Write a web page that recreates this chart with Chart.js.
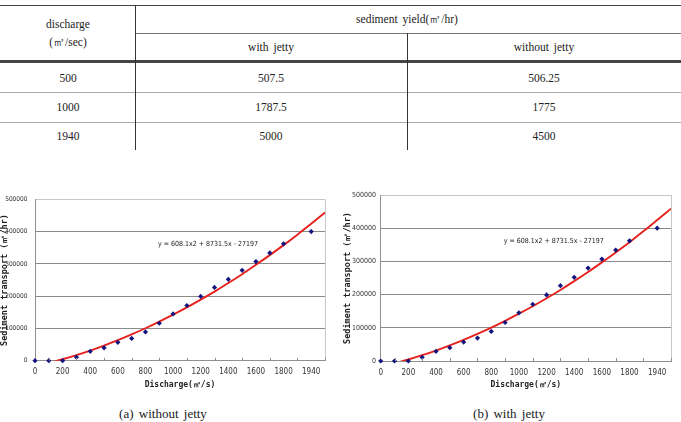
<!DOCTYPE html>
<html><head><meta charset="utf-8">
<script src="https://cdn.jsdelivr.net/npm/chart.js@4.4.0/dist/chart.umd.min.js"></script>
<style>
body{margin:0;width:681px;height:422px;background:#fff;position:relative;overflow:hidden;font-family:'Liberation Serif','Times New Roman',serif;color:#222}
.t{position:absolute;transform:translate(-50%,-50%);white-space:nowrap;font-size:11.5px;word-spacing:2px;line-height:1}
.c{position:absolute;transform:translate(-50%,-50%);white-space:nowrap;font-size:13px;word-spacing:2px;line-height:1}
.l{position:absolute}
canvas{position:absolute}
</style></head><body>
<div id="tbl"></div>
<canvas id="ca" width="335" height="215" style="left:0;top:185px"></canvas>
<canvas id="cb" width="346" height="215" style="left:335px;top:185px"></canvas>
<div class="c" style="left:163px;top:413px">(a) without jetty</div>
<div class="c" style="left:509px;top:413px">(b) with jetty</div>
<script>
// ---- table data ----
const tableDischarge = ['500', '1000', '1940'];
const tableWithJetty = ['507.5', '1787.5', '5000'];
const tableWithoutJetty = ['506.25', '1775', '4500'];
const tableHeaders = ['discharge', '(㎥/sec)', 'sediment yield(㎥/hr)', 'with jetty', 'without jetty'];

// ---- chart data ----
const categories = ['0','100','200','300','400','500','600','700','800','900','1000','1100','1200','1300','1400','1500','1600','1700','1800','','1940',''];
const sedimentTransport = [0,0,0,11000,29000,40000,57000,69000,89000,116000,145000,171000,199000,227000,252000,280000,307000,334000,362000,null,400000,null];
const trendCurve = [null,-7300,4500,17500,31500,47000,63500,81500,100500,121000,142500,165000,189000,214000,240500,268000,297000,327000,358000,390500,424500,459000];
const trendLabel = 'y = 608.1x2 + 8731.5x - 27197';
const yTicks = [0,100000,200000,300000,400000,500000];

// ---- build table ----
const tbl = document.getElementById('tbl');
function txt(s, x, y){const d=document.createElement('div');d.className='t';d.style.left=x+'px';d.style.top=y+'px';d.textContent=s;tbl.appendChild(d);}
function line(x,y,w,h,c){const d=document.createElement('div');d.className='l';d.style.left=x+'px';d.style.top=y+'px';d.style.width=w+'px';d.style.height=h+'px';d.style.background=c;tbl.appendChild(d);}
line(0,5,681,1,'#444');
line(135,33,546,1,'#777');
line(0,60,681,3,'#444');
line(0,92,681,1,'#aaa');
line(0,122,681,1,'#aaa');
line(135,5,1,145,'#333');
line(407,33,1,117,'#333');
txt(tableHeaders[0],68,25);
txt(tableHeaders[1],68,43);
txt(tableHeaders[2],407,20);
txt(tableHeaders[3],271,48);
txt(tableHeaders[4],544,48);
const rowY=[79,108,137];
tableDischarge.forEach((v,i)=>{txt(v,68,rowY[i]);txt(tableWithJetty[i],271,rowY[i]);txt(tableWithoutJetty[i],544,rowY[i]);});

// ---- charts ----
const NARROW = "'Liberation Sans Narrow','DejaVu Sans Condensed','Liberation Sans',sans-serif";
const MONO = "'DejaVu Sans Mono','Liberation Mono',monospace";

const decor = {
  id:'decor',
  afterDatasetsDraw(chart){
    const {ctx, chartArea:a, scales:{x,y}} = chart;
    ctx.save();
    ctx.strokeStyle='#c8c8c8'; ctx.lineWidth=1;
    ctx.beginPath(); ctx.moveTo(Math.round(a.right)+0.5,a.top); ctx.lineTo(Math.round(a.right)+0.5,a.bottom); ctx.stroke();
    ctx.strokeStyle='#909090';
    for(let i=1;i<categories.length;i+=2){
      const px=Math.round(x.getPixelForValue(i))+0.5;
      ctx.beginPath(); ctx.moveTo(px,a.bottom); ctx.lineTo(px,a.bottom-3); ctx.stroke();
    }
    const o = chart.options.plugins.decor;
    ctx.fillStyle='#222';
    ctx.font = '7px '+NARROW;
    ctx.textBaseline='middle'; ctx.textAlign='left';
    ctx.fillText(trendLabel, x.getPixelForValue(o.labelX), y.getPixelForValue(o.labelY));
    ctx.restore();
  }
};

function makeChart(id, cfg){
  return new Chart(document.getElementById(id), {
    type:'line',
    data:{labels:categories, datasets:[
      {data:trendCurve, borderColor:'#e5221d', borderWidth:1.9, pointRadius:0, tension:0.3, cubicInterpolationMode:'monotone', spanGaps:false, order:2, clip:0},
      {data:sedimentTransport, showLine:false, pointStyle:'rectRot', pointRadius:2.6, pointBackgroundColor:'#14147e', pointBorderColor:'#14147e', pointBorderWidth:0, order:1, clip:false}
    ]},
    options:{
      responsive:false, animation:false,
      layout:{padding:{top:cfg.padTop,right:10,bottom:0,left:0}},
      plugins:{legend:{display:false}, tooltip:{enabled:false}, decor:{labelX:8.9, labelY:361000}},
      scales:{
        x:{type:'category', offset:false,
          grid:{display:false, drawTicks:false},
          border:{display:true,color:'#909090'},
          ticks:{autoSkip:false, maxRotation:0, padding:cfg.xPad, color:'#333', font:{family:NARROW,size:8},
            callback:(v,i)=> i%2===0 ? categories[i] : ''},
          title:{display:true, text:'Discharge(㎥/s)', color:'#222', font:{family:MONO,size:8,weight:'bold'}, padding:{top:0,bottom:10}},
          afterFit:s=>{s.height=cfg.xH;}
        },
        y:{min:0,max:500000,
          afterBuildTicks:s=>{s.ticks=yTicks.map(v=>({value:v}));},
          grid:{drawTicks:false, color:c=>c.tick && c.tick.value===500000 ? '#c8c8c8':'#8a8a8a'},
          border:{display:true,color:'#909090'},
          ticks:{padding:cfg.yPad, color:'#333', font:{family:NARROW,size:cfg.yFont}, callback:v=>String(v)},
          title:{display:true, text:'Sediment transport (㎥/hr)', color:'#222', font:{family:MONO,size:8.5,weight:'bold',lineHeight:1}, padding:{top:cfg.yTitlePad,bottom:0}},
          afterFit:s=>{s.width=cfg.yW;}
        }
      }
    },
    plugins:[decor]
  });
}
makeChart('ca',{padTop:14.3,xH:39.3,yW:35,yPad:7.5,yTitlePad:0.5,xPad:6.5,yFont:6.5});
makeChart('cb',{padTop:10,xH:39,yW:45.7,yPad:4.7,yTitlePad:9,xPad:7.5,yFont:7});
</script>
</body></html>
